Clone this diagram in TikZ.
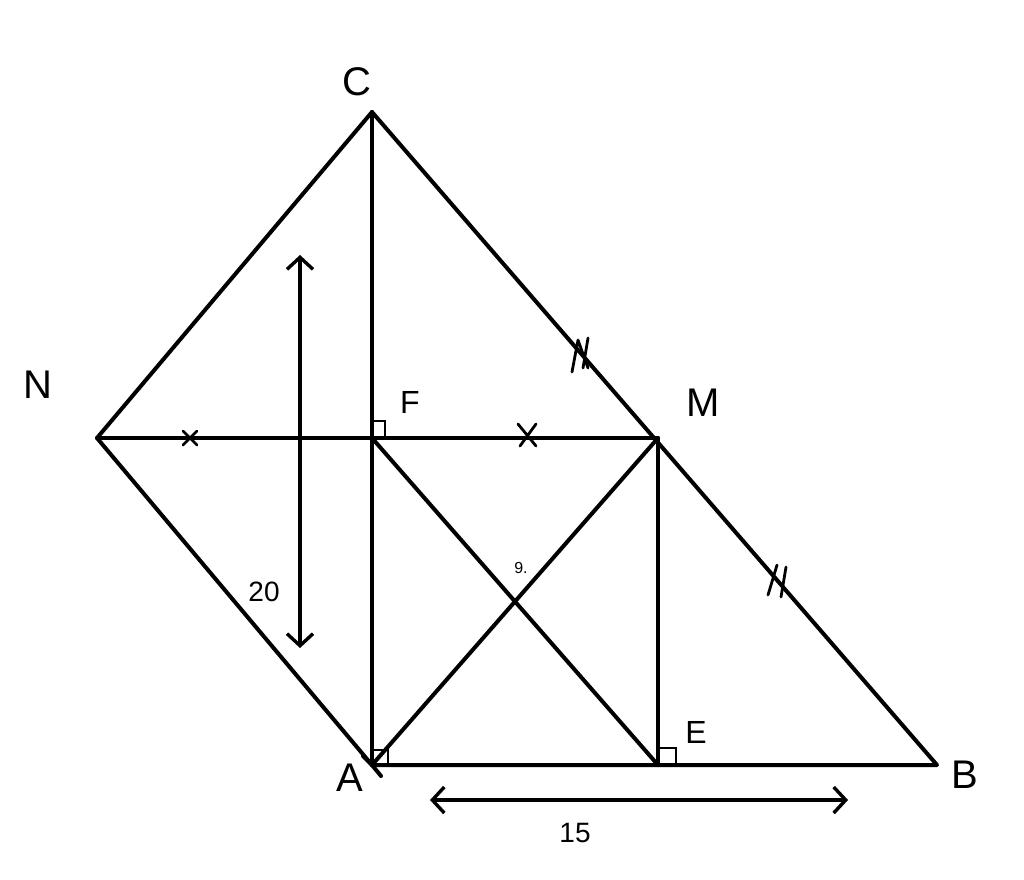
\documentclass[tikz,border=0pt]{standalone}
\usepackage{fontspec}
\setmainfont{Liberation Sans}
\usetikzlibrary{arrows.meta}
\begin{document}
\begin{tikzpicture}[x=1pt,y=-1pt,
  edge/.style={line width=4pt,line cap=round,line join=round},
  thin/.style={line width=2.8pt,line cap=round},
  ptlabel/.style={font=\fontsize{40}{42}\selectfont},
  numlabel/.style={font=\fontsize{28}{30}\selectfont},
  dbl/.style={line width=3.4pt,{Straight Barb[length=12pt,width=26pt,line width=3.4pt]}-{Straight Barb[length=12pt,width=26pt,line width=3.4pt]}}]
\useasboundingbox (0,0) rectangle (1024,879);
\fill[white] (0,0) rectangle (1024,879);
% points
\coordinate (C) at (372,112);
\coordinate (A) at (372,765);
\coordinate (B) at (937,765);
\coordinate (M) at (658,438);
\coordinate (F) at (372,438);
\coordinate (E) at (658,765);
\coordinate (N) at (97,438);
% edges
\draw[edge] (C) -- (B) -- (A) -- (N) -- (C);
\draw[edge] (C) -- (A);
\draw[edge] (N) -- (M) -- (E);
\draw[edge] (F) -- (E);
\draw[edge] (A) -- (M);
\draw[edge] (A) -- (363,756);
\draw[edge] (A) -- (381,776);
% right angles
\draw[thin] (372,421) -- (385,421) -- (385,438);
\draw[thin] (372,750) -- (388,750) -- (388,765);
\draw[thin] (658,748) -- (676,748) -- (676,765);
% ticks
\draw[thin] (183,431) -- (197,445) (183,445) -- (197,431);
\draw[thin] (518,424) -- (536,446) (536,424) -- (520,446);
\draw[thin] (578,340) -- (572,372) (588,338) -- (583,368) (578,340) -- (588,368);
\draw[thin] (777,565) -- (768,595) (786,567) -- (781,597);
% double arrows
\coordinate (V1) at (300,255);
\coordinate (V2) at (300,648);
\coordinate (H1) at (430,800);
\coordinate (H2) at (848,800);
\draw[dbl] (V1) -- (V2);
\draw[dbl] (H1) -- (H2);
% labels
\node[ptlabel] (lC) at (357,82) {C};
\node[ptlabel] (lN) at (38,385) {N};
\node[ptlabel,font=\fontsize{32}{34}\selectfont] (lF) at (410,402) {F};
\node[ptlabel] (lM) at (703,403) {M};
\node[ptlabel,font=\fontsize{32}{34}\selectfont] (lE) at (696,732) {E};
\node[ptlabel] (lA) at (350,778) {A};
\node[ptlabel] (lB) at (965,775) {B};
\node[numlabel,inner sep=1pt] (l20) at (264,592) {20};
\node[numlabel] (l15) at (575,833) {15};
\node[font=\fontsize{16}{18}\selectfont] (lO) at (521,568) {9.};
\end{tikzpicture}
\end{document}
